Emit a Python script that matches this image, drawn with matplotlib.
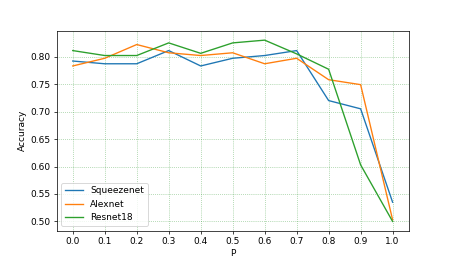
import numpy
import matplotlib
matplotlib.use("Agg")
from matplotlib import pyplot

p = [0.0, 0.1, 0.2, 0.3, 0.4, 0.5, 0.6, 0.7, 0.8, 0.9, 1.0]
squeezenet = [0.792, 0.787, 0.787, 0.811, 0.783, 0.797, 0.802, 0.811, 0.720, 0.705, 0.535]
alexnet = [0.783, 0.797, 0.822, 0.807, 0.802, 0.807, 0.787, 0.797, 0.758, 0.749, 0.503]
resnet18 = [0.811, 0.802, 0.802, 0.825, 0.806, 0.825, 0.830, 0.805, 0.777, 0.603, 0.500]

fig, ax = pyplot.subplots(figsize=(454/65.0, 259/65.0), dpi=65)
ax.plot(p, squeezenet, label='Squeezenet')
ax.plot(p, alexnet, label='Alexnet')
ax.plot(p, resnet18, label='Resnet18')
ax.set_xticks(p)
ax.grid(color='green', linestyle=':', alpha=0.5)
ax.set_xlabel('P')
ax.set_ylabel('Accuracy')
ax.legend(loc='lower left')
fig.savefig('out.png', dpi=65)
